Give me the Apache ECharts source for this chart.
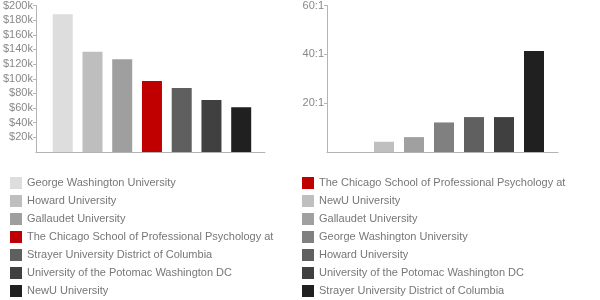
<!DOCTYPE html>
<html>
<head>
<meta charset="utf-8">
<script src="https://cdn.jsdelivr.net/npm/echarts@6/dist/echarts.min.js"></script>
<style>
  html, body { margin: 0; padding: 0; background: #fff; }
  #chart { width: 600px; height: 300px; }
</style>
</head>
<body>
<div id="chart"></div>
<script>
// median salary (left) and student:faculty ratio (right)
const salarySchools = [
  'George Washington University',
  'Howard University',
  'Gallaudet University',
  'The Chicago School of Professional Psychology at',
  'Strayer University District of Columbia',
  'University of the Potomac Washington DC',
  'NewU University'
];
const salaryValues = [188000, 137000, 126500, 97000, 87500, 71000, 61000];
const salaryColors = ['#dddddd', '#bebebe', '#9f9f9f', '#c00000', '#5f5f5f', '#404040', '#202020'];

const ratioSchools = [
  'The Chicago School of Professional Psychology at',
  'NewU University',
  'Gallaudet University',
  'George Washington University',
  'Howard University',
  'University of the Potomac Washington DC',
  'Strayer University District of Columbia'
];
const ratioValues = [0, 4.2, 6.1, 12.1, 14.3, 14.3, 41.4];
const ratioColors = ['#c00000', '#bfbfbf', '#a0a0a0', '#808080', '#606060', '#404040', '#202020'];

const font = 'Liberation Sans, Arial, sans-serif';
const axisGrey = '#b4b4b4';
const labelGrey = '#888';

function makeSeries(names, values, colors, axisIdx) {
  return names.map((name, i) => ({
    name: name,
    type: 'bar',
    xAxisIndex: axisIdx,
    yAxisIndex: axisIdx,
    barWidth: 20,
    barGap: '-100%',
    itemStyle: { color: colors[i] },
    data: [[i, values[i]]]
  }));
}

function makeLegend(names, colors, left) {
  return {
    orient: 'vertical',
    left: left,
    top: 177,
    padding: 0,
    itemWidth: 12,
    itemHeight: 12,
    itemGap: 6,
    icon: 'rect',
    selectedMode: false,
    textStyle: { fontSize: 11, color: '#777', fontFamily: font, lineHeight: 12 },
    data: names.map((n, i) => ({ name: n, itemStyle: { color: colors[i] } }))
  };
}

function xAxis(idx) {
  return {
    type: 'value',
    gridIndex: idx,
    min: -0.9,
    max: 6.8,
    axisLine: { show: true, onZero: false, lineStyle: { color: axisGrey } },
    axisTick: { show: false },
    axisLabel: { show: false },
    splitLine: { show: false }
  };
}

function yAxis(idx, max, step, fmt) {
  return {
    type: 'value',
    gridIndex: idx,
    min: 0,
    max: max,
    interval: step,
    axisLine: { show: true, onZero: false, lineStyle: { color: axisGrey } },
    axisTick: { show: true, length: 3, lineStyle: { color: axisGrey } },
    splitLine: { show: false },
    axisLabel: {
      margin: 3,
      fontSize: 11,
      color: labelGrey,
      fontFamily: font,
      showMinLabel: false,
      formatter: fmt
    }
  };
}

const chart = echarts.init(document.getElementById('chart'));
chart.setOption({
  animation: false,
  textStyle: { fontFamily: font },
  grid: [
    { left: 34, top: 5, width: 231, height: 147 },
    { left: 327, top: 5, width: 231, height: 147 }
  ],
  xAxis: [xAxis(0), xAxis(1)],
  yAxis: [
    yAxis(0, 200000, 20000, v => '$' + (v / 1000) + 'k'),
    yAxis(1, 60, 20, v => v + ':1')
  ],
  legend: [
    makeLegend(salarySchools, salaryColors, 10),
    makeLegend(ratioSchools, ratioColors, 302)
  ],
  series: makeSeries(salarySchools, salaryValues, salaryColors, 0)
    .concat(makeSeries(ratioSchools, ratioValues, ratioColors, 1))
});
</script>
</body>
</html>
